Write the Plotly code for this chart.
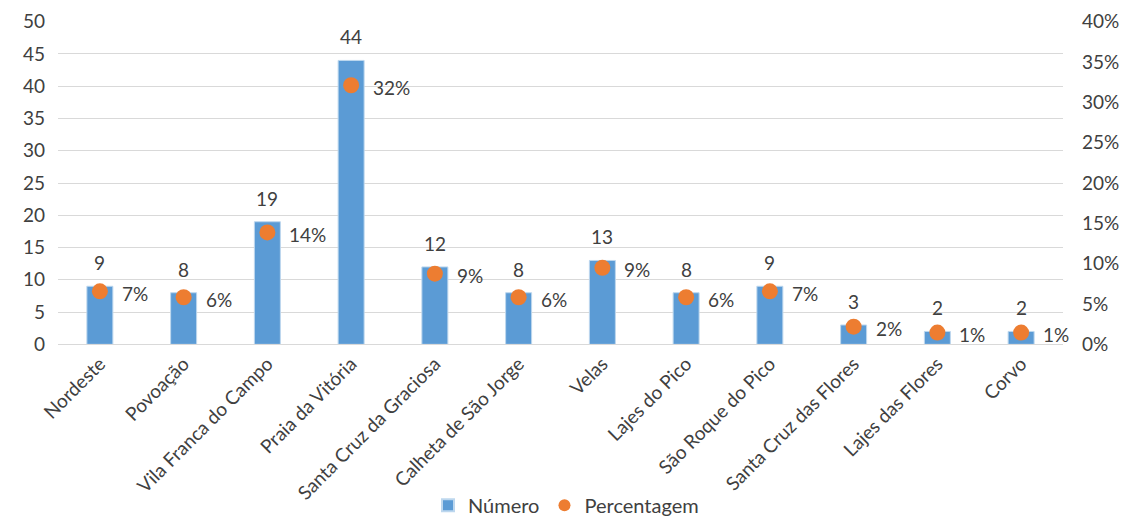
import plotly.graph_objects as go

concelhos = ["Nordeste", "Povoação", "Vila Franca do Campo", "Praia da Vitória",
             "Santa Cruz da Graciosa", "Calheta de São Jorge", "Velas", "Lajes do Pico",
             "São Roque do Pico", "Santa Cruz das Flores", "Lajes das Flores", "Corvo"]
numero = [9, 8, 19, 44, 12, 8, 13, 8, 9, 3, 2, 2]
percentagem = [0.0657, 0.0584, 0.1387, 0.3212, 0.0876, 0.0584, 0.0949, 0.0584,
               0.0657, 0.0219, 0.0146, 0.0146]

FONT = "Lato"
GREY = "#404040"
W, H = 1132, 525

fig = go.Figure()

fig.add_trace(go.Bar(
    x=concelhos, y=numero, name="Número",
    marker=dict(color="#5b9bd5", line=dict(color="#bdd7ee", width=1)),
    width=0.31,
))

fig.add_trace(go.Scatter(
    x=concelhos, y=percentagem, name="Percentagem", yaxis="y2",
    mode="markers",
    marker=dict(color="#ed7d31", size=16),
    cliponaxis=False,
))

# data labels, offset like the original
for c, n, p in zip(concelhos, numero, percentagem):
    fig.add_annotation(x=c, y=n, text=str(n), showarrow=False, yanchor="bottom",
                       yshift=10, font=dict(family=FONT, size=19, color=GREY))
    fig.add_annotation(x=c, y=p, yref="y2", text="%d%%" % round(p * 100),
                       showarrow=False, xanchor="left", xshift=20, yshift=-2,
                       font=dict(family=FONT, size=19, color=GREY))

fig.update_layout(
    width=W, height=H,
    margin=dict(l=0, r=0, t=0, b=0),
    plot_bgcolor="white", paper_bgcolor="white",
    font=dict(family=FONT, size=17, color=GREY),
    bargap=0.69,
    xaxis=dict(domain=[58 / W, 1063 / W], range=[-0.5, len(concelhos) - 0.5],
               tickangle=-45, showgrid=False, showline=True, linecolor="#d9d9d9",
               tickfont=dict(size=19), ticks="", automargin=False),
    yaxis=dict(domain=[(H - 349) / H, (H - 22) / H], range=[0, 50], dtick=5,
               showgrid=True, gridcolor="#d9d9d9", zeroline=False,
               tickfont=dict(size=19), ticks="", automargin=False,
               ticklabelstandoff=12),
    yaxis2=dict(range=[0, 0.4], dtick=0.05, tickformat=".0%", overlaying="y",
                side="right", showgrid=False, zeroline=False,
                tickfont=dict(size=19), automargin=False, ticklabelstandoff=18),
    showlegend=True,
    legend=dict(orientation="h", x=0.5, xanchor="center", xref="paper",
                y=13 / H, yanchor="middle", font=dict(size=20),
                itemsizing="constant"),
)

fig.write_html("out.html", config={"displayModeBar": False},
               post_script="document.body.style.margin='0';")
